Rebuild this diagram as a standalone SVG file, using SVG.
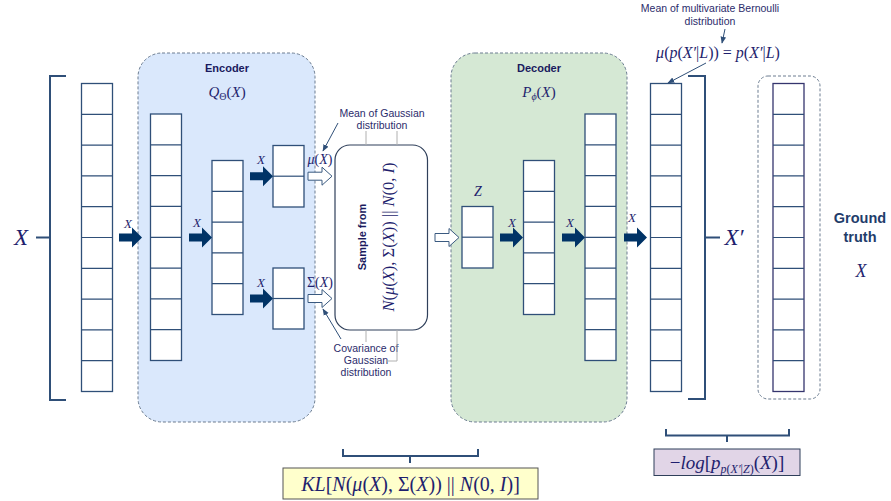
<svg xmlns="http://www.w3.org/2000/svg" xmlns:xlink="http://www.w3.org/1999/xlink" width="891" height="501" viewBox="0 0 891 501">
<style>
.cell{fill:#fff;stroke:#2f4f78;stroke-width:1.3}
.sep{stroke:#2f4f78;stroke-width:1.2}
.math{font-family:"Liberation Serif","DejaVu Serif",serif;font-style:italic;fill:#1f1f6e}
.u{font-style:normal}
.lbl{font-family:"Liberation Sans",Arial,sans-serif;fill:#2b2b6b;font-size:10.5px;text-anchor:middle}
.title{font-family:"Liberation Sans",Arial,sans-serif;font-weight:bold;fill:#1a1a5e;font-size:11px;text-anchor:middle}
.brk{fill:none;stroke:#2f4f78;stroke-width:2}
.farrow{fill:#003366}
.harrow{fill:#fff;stroke:#3a5a80;stroke-width:1}
.thin{stroke:#2f4f78;stroke-width:1;fill:none}
</style>
<defs>
<path id="fa" d="M0,-4 H13 V-10 L23,0 L13,10 V4 H0 Z"/>
<path id="ha" d="M0,-4 H14 V-9 L24,0 L14,9 V4 H0 Z"/>
<marker id="mk" viewBox="0 0 10 10" refX="9" refY="5" markerWidth="7" markerHeight="7" orient="auto">
<path d="M0,1 L10,5 L0,9 Z" fill="#2f4f78"/>
</marker>
</defs>

<g id="encoder">
<rect x="138" y="53" width="177" height="369" rx="24" fill="#dae8fc" stroke="#6c7d91" stroke-width="1" stroke-dasharray="3,2"/>
<text class="title" x="227" y="72">Encoder</text>
<text class="math" x="227" y="97" font-size="15" text-anchor="middle">Q<tspan class="u" font-size="10" dy="3">Θ</tspan><tspan class="u" dy="-3">(</tspan>X<tspan class="u">)</tspan></text>
</g>
<g id="decoder">
<rect x="451" y="53" width="176" height="369" rx="24" fill="#d5e8d4" stroke="#6c7d91" stroke-width="1" stroke-dasharray="3,2"/>
<text class="title" x="539" y="72">Decoder</text>
<text class="math" x="539" y="97" font-size="15" text-anchor="middle">P<tspan font-size="10" dy="3">ϕ</tspan><tspan class="u" dy="-3">(</tspan>X<tspan class="u">)</tspan></text>
</g>
<g id="ground-truth-box">
<rect x="758" y="76" width="62" height="323" rx="10" fill="none" stroke="#6c7d91" stroke-width="1" stroke-dasharray="3,2"/>
</g>

<g id="input">
<rect class="cell" x="81.5" y="83.5" width="31" height="308"/>
<path class="sep" d="M81.5,114.3H112.5M81.5,145.1H112.5M81.5,175.9H112.5M81.5,206.7H112.5M81.5,237.5H112.5M81.5,268.3H112.5M81.5,299.1H112.5M81.5,329.9H112.5M81.5,360.7H112.5"/>
<path class="brk" d="M66,76 H50 V400 H66 M50,237.5 H36"/>
<text class="math" x="21" y="245" font-size="23" text-anchor="middle">X</text>
</g>

<g id="enc-l1">
<rect class="cell" x="150.5" y="114" width="31" height="246.5"/>
<path class="sep" d="M150.5,144.8H181.5M150.5,175.6H181.5M150.5,206.4H181.5M150.5,237.3H181.5M150.5,268.1H181.5M150.5,298.9H181.5M150.5,329.7H181.5"/>
</g>
<g id="enc-l2">
<rect class="cell" x="212" y="160.5" width="31" height="154"/>
<path class="sep" d="M212,191.3H243M212,222.1H243M212,252.9H243M212,283.7H243"/>
</g>
<g id="enc-mu">
<rect class="cell" x="273" y="145.5" width="31" height="61.5"/>
<path class="sep" d="M273,176.2H304"/>
</g>
<g id="enc-sigma">
<rect class="cell" x="273" y="268" width="31" height="61"/>
<path class="sep" d="M273,298.5H304"/>
</g>

<g id="sample">
<rect x="335" y="145" width="92.5" height="185" rx="15" fill="#fff" stroke="#2f3f5a" stroke-width="1.2"/>
<text transform="translate(366,237) rotate(-90)" font-family="Liberation Sans,Arial,sans-serif" font-weight="bold" font-size="11" fill="#1a1a5e" text-anchor="middle">Sample from</text>
<text class="math" transform="translate(394,237) rotate(-90)" font-size="16.5" text-anchor="middle">N<tspan class="u">(</tspan>μ<tspan class="u">(</tspan>X<tspan class="u">), Σ(</tspan>X<tspan class="u">)) || </tspan>N<tspan class="u">(0, </tspan>I<tspan class="u">)</tspan></text>
</g>

<g id="z">
<text class="math" x="478" y="196" font-size="14" text-anchor="middle">Z</text>
<rect class="cell" x="462" y="206.5" width="31" height="61.5"/>
<path class="sep" d="M462,237.2H493"/>
</g>
<g id="dec-l1">
<rect class="cell" x="523.5" y="160.5" width="31" height="154"/>
<path class="sep" d="M523.5,191.3H554.5M523.5,222.1H554.5M523.5,252.9H554.5M523.5,283.7H554.5"/>
</g>
<g id="dec-l2">
<rect class="cell" x="585" y="114" width="31" height="246.5"/>
<path class="sep" d="M585,144.8H616M585,175.6H616M585,206.4H616M585,237.3H616M585,268.1H616M585,298.9H616M585,329.7H616"/>
</g>

<g id="output">
<rect class="cell" x="650.5" y="83.5" width="31" height="308"/>
<path class="sep" d="M650.5,114.3H681.5M650.5,145.1H681.5M650.5,175.9H681.5M650.5,206.7H681.5M650.5,237.5H681.5M650.5,268.3H681.5M650.5,299.1H681.5M650.5,329.9H681.5M650.5,360.7H681.5"/>
<path class="brk" d="M688,76 H705 V399 H688 M705,237.5 H720"/>
<text class="math" x="734" y="245" font-size="23" text-anchor="middle">X′</text>
</g>

<g id="ground-truth">
<rect class="cell" x="773" y="83.5" width="31" height="308" style="stroke:#35356e"/>
<path class="sep" d="M773,114.3H804M773,145.1H804M773,175.9H804M773,206.7H804M773,237.5H804M773,268.3H804M773,299.1H804M773,329.9H804M773,360.7H804"/>
<text x="860" y="223" font-family="Liberation Sans,Arial,sans-serif" font-weight="bold" font-size="14.5" fill="#1f3d6b" text-anchor="middle">Ground</text>
<text x="860" y="242" font-family="Liberation Sans,Arial,sans-serif" font-weight="bold" font-size="14.5" fill="#1f3d6b" text-anchor="middle">truth</text>
<text class="math" x="861" y="277" font-size="18" text-anchor="middle">X</text>
</g>

<g id="ann-mean-gauss">
<text class="lbl" x="382" y="117">Mean of Gaussian</text>
<text class="lbl" x="382" y="129">distribution</text>
<line x1="338" y1="123" x2="323" y2="151" class="thin" marker-end="url(#mk)"/>
<path d="M366,131V145M397,131V145" stroke="#b0b0b0" stroke-width="1" fill="none"/>
</g>
<g id="ann-cov-gauss">
<text class="lbl" x="366" y="352">Covariance of</text>
<text class="lbl" x="366" y="364">Gaussian</text>
<text class="lbl" x="366" y="376">distribution</text>
<line x1="341" y1="339" x2="323" y2="309" class="thin" marker-end="url(#mk)"/>
<path d="M366,330V342M397,330V361H386" stroke="#b0b0b0" stroke-width="1" fill="none"/>
</g>
<g id="ann-bernoulli">
<text class="lbl" x="710" y="12">Mean of multivariate Bernoulli</text>
<text class="lbl" x="710" y="25">distribution</text>
<line x1="725" y1="29" x2="722" y2="43" class="thin" marker-end="url(#mk)"/>
<text class="math" x="718" y="58" font-size="16" text-anchor="middle">μ<tspan class="u">(</tspan>p<tspan class="u">(</tspan>X′<tspan class="u">|</tspan>L<tspan class="u">)) = </tspan>p<tspan class="u">(</tspan>X′<tspan class="u">|</tspan>L<tspan class="u">)</tspan></text>
<line x1="706" y1="63" x2="668" y2="83" class="thin" marker-end="url(#mk)"/>
</g>

<g id="kl">
<path class="brk" d="M343,449V456H478V449M410,456V463" stroke-width="2"/>
<rect x="283" y="468" width="255" height="31" fill="#ffffcc" stroke="#555" stroke-width="1"/>
<text class="math" x="410.5" y="491" font-size="20" text-anchor="middle">KL<tspan class="u">[</tspan>N<tspan class="u">(</tspan>μ<tspan class="u">(</tspan>X<tspan class="u">), Σ(</tspan>X<tspan class="u">)) || </tspan>N<tspan class="u">(0, </tspan>I<tspan class="u">)]</tspan></text>
</g>
<g id="nll">
<path class="brk" d="M666,429V435.5H789V429M727,435.5V442" stroke-width="2"/>
<rect x="654" y="449" width="146" height="26.5" fill="#e1d5e7" stroke="#2f3f5a" stroke-width="1"/>
<text class="math" x="727" y="469" font-size="19" text-anchor="middle"><tspan class="u">−</tspan>log<tspan class="u">[</tspan>p<tspan font-size="12" dy="4">p<tspan class="u">(</tspan>X′<tspan class="u">|</tspan>Z<tspan class="u">)</tspan></tspan><tspan class="u" dy="-4">(</tspan>X<tspan class="u">)]</tspan></text>
</g>

<g id="connectors">
<use href="#fa" class="farrow" x="119" y="237.5"/>
<text class="math" x="128" y="228" font-size="13" text-anchor="middle">X</text>
<use href="#fa" class="farrow" x="189" y="237.5"/>
<text class="math" x="197" y="227" font-size="13" text-anchor="middle">X</text>
<use href="#fa" class="farrow" x="250" y="176.2"/>
<text class="math" x="261" y="164" font-size="13" text-anchor="middle">X</text>
<use href="#fa" class="farrow" x="250" y="298.5"/>
<text class="math" x="261" y="287" font-size="13" text-anchor="middle">X</text>
<text class="math" x="320" y="164" font-size="14" text-anchor="middle">μ<tspan class="u">(</tspan>X<tspan class="u">)</tspan></text>
<text class="math" x="320" y="287" font-size="14" text-anchor="middle"><tspan class="u">Σ(</tspan>X<tspan class="u">)</tspan></text>
<use href="#ha" class="harrow" x="308" y="176.2"/>
<use href="#ha" class="harrow" x="308" y="298.5"/>
<use href="#ha" class="harrow" x="435" y="237.5"/>
<use href="#fa" class="farrow" x="500" y="237.5"/>
<text class="math" x="512" y="227" font-size="13" text-anchor="middle">X</text>
<use href="#fa" class="farrow" x="562" y="237.5"/>
<text class="math" x="570" y="227" font-size="13" text-anchor="middle">X</text>
<use href="#fa" class="farrow" x="624" y="237.5"/>
<text class="math" x="632" y="222" font-size="13" text-anchor="middle">X</text>
</g>
</svg>
